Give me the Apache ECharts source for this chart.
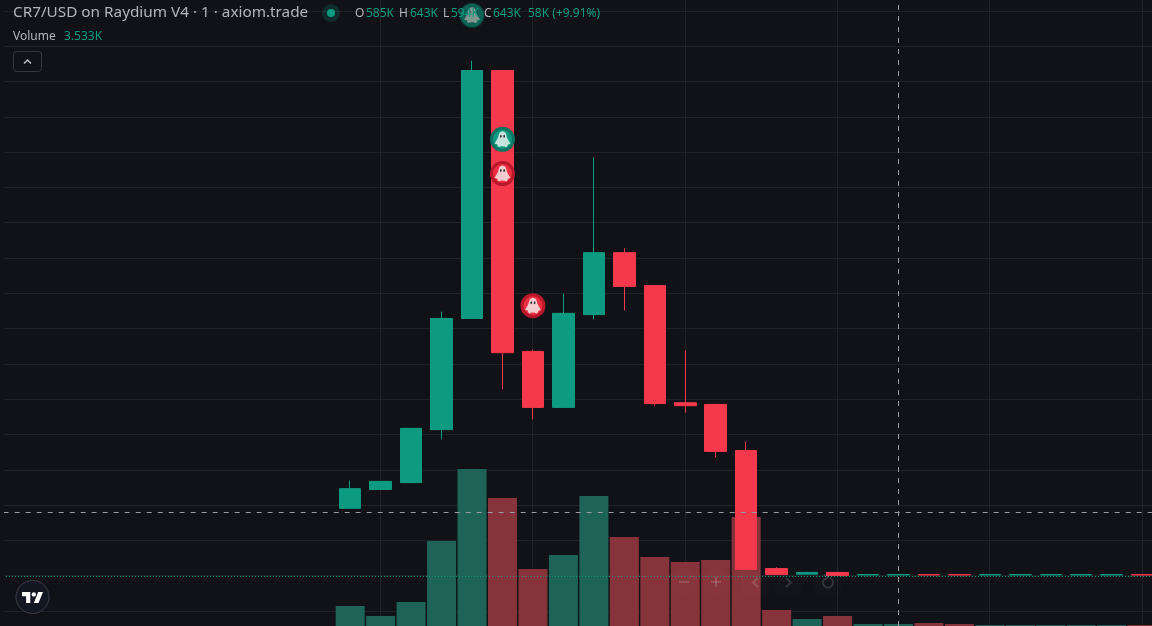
<!DOCTYPE html>
<html lang="en">
<head>
    <meta charset="utf-8">
    <title>CR7/USD</title>
    <script src="https://cdn.jsdelivr.net/npm/echarts@6/dist/echarts.min.js"></script>
</head>
<body>
<style>
    html, body, #main {
        width: 100%;
        height: 100%;
        margin: 0;
        background: #101217;
    }
</style>
<div id='main'></div>
<script>
    // prices in K
    var opens  = [540.6, 545.0, 546.6, 559.0, 585.0, 643.0, 577.3, 564.2, 585.9, 600.4, 592.7, 565.3, 564.9, 554.1, 526.5, 525.2, 525.6, 525.0, 525.0, 525.1, 525.1, 525.0, 525.0, 525.0, 525.0, 525.0, 525.1];
    var closes = [545.2, 546.9, 559.3, 585.0, 643.0, 577.0, 564.2, 586.2, 600.4, 592.5, 565.1, 564.6, 553.9, 526.3, 525.1, 525.6, 524.9, 525.1, 525.1, 525.0, 525.0, 525.1, 525.1, 525.1, 525.1, 525.1, 525.0];
    var lows   = [540.6, 545.0, 546.6, 556.7, 585.0, 568.4, 561.4, 564.2, 584.8, 586.9, 564.6, 563.0, 552.5, 526.3, 525.1, 525.2, 524.9, 525.0, 525.0, 525.0, 525.0, 525.0, 525.0, 525.0, 525.0, 525.0, 525.0];
    var highs  = [547.1, 546.9, 559.3, 586.6, 645.3, 643.0, 577.7, 590.8, 622.7, 601.4, 592.7, 577.5, 564.9, 556.2, 526.8, 525.8, 525.6, 525.1, 525.1, 525.1, 525.1, 525.1, 525.1, 525.1, 525.1, 525.1, 525.1];
    var volumes = [450, 225, 540, 1913, 3533, 2880, 1283, 1598, 2925, 2003, 1553, 1440, 1485, 2453, 360, 158, 225, 45, 45, 68, 45, 23, 23, 23, 23, 23, 23];
    var leadingEmpty = 11, trailingEmpty = 0;

    // ghost markers: candle number, price, kind
    var markerCandle = [4, 5, 5, 6];
    var markerPrice = [655.9, 626.9, 618.9, 588.0];
    var markerBuy = [true, true, false, false];
    var markerDim = [true, false, false, false];

    var crossPrice = 539.6, crossCandle = 18, lastPrice = 524.6;

    var legendTitle = 'CR7/USD on Raydium V4 · 1 · axiom.trade';
    var legendLetters = ['O', 'H', 'L', 'C'];
    var legendValues = ['585K', '643K', '594K', '643K'];
    var legendChange = '58K (+9.91%)';
    var volumeName = 'Volume', volumeValue = '3.533K';

    var up = '#0c9b81', down = '#f6384c';
    var upVol = '#1e6358', downVol = '#87333b';
    var grid = '#1f2126', bg = '#101217';
    var uiFont = '"Noto Sans", sans-serif';
    var ghost = 'path://M12 1C8.5 1 7 4 6.5 7C6 10 4 13 1 18C3 18.5 4 18.5 5 19C5.5 21 6 22 7 23C9 22 10 21.5 12 21.5C14 21.5 15.5 22 17 23C18.5 22 19 21 19.5 19C20.5 18.5 22 18.5 23 18C20 13 18 10 17.5 7C17 4 15.5 1 12 1Z';
    var eyes = 'path://M2 0A2 3 0 1 1 1.99 0ZM10 0A2 3 0 1 1 9.99 0Z';

    var categories = [];
    for (var n = 0; n < leadingEmpty + opens.length + trailingEmpty; n++) {
        categories.push(String(n));
    }
    var padding = [];
    for (var p = 0; p < leadingEmpty; p++) {
        padding.push('-');
    }

    var candleData = padding.concat(opens.map(function (o, i) {
        return [o, closes[i], lows[i], highs[i]];
    }));
    var volumeData = padding.concat(volumes.map(function (v, i) {
        return {value: v, itemStyle: {color: closes[i] >= opens[i] ? upVol : downVol}};
    }));
    var markerData = markerCandle.map(function (c, i) {
        return {
            value: [c + leadingEmpty, markerPrice[i]],
            itemStyle: {
                color: markerBuy[i] ? '#0c9b81' : '#ee2f41',
                borderColor: markerBuy[i] ? '#0b7361' : '#b9182a',
                borderWidth: 3,
                opacity: markerDim[i] ? 0.55 : 1
            }
        };
    });
    var ghostData = markerCandle.map(function (c, i) {
        return {
            value: [c + leadingEmpty, markerPrice[i]],
            itemStyle: {color: markerDim[i] ? '#9aa5a2' : '#f4f4f4'}
        };
    });
    var eyeData = markerCandle.map(function (c, i) {
        return {
            value: [c + leadingEmpty, markerPrice[i]],
            itemStyle: {color: '#2a2a2e', opacity: markerDim[i] ? 0.55 : 1}
        };
    });

    function text(str, x, y, fill, size, z) {
        return {
            type: 'text', x: x, y: y, z: z || 30,
            style: {text: str, fill: fill, font: (size || 12) + 'px ' + uiFont, textVerticalAlign: 'middle'}
        };
    }

    var graphics = [
        // horizontal lines start 4px in
        {type: 'rect', z: 20, shape: {x: 0, y: 0, width: 4, height: 626}, style: {fill: bg}},
        text(legendTitle, 13, 13, '#b4b5b9', 15.3),
        text(volumeName, 13, 37, '#b4b5b9', 12),
        text(volumeValue, 64, 37, up, 12),
        text(legendChange, 528, 14, up, 12),
        {type: 'circle', z: 30, shape: {cx: 331, cy: 13, r: 9}, style: {fill: 'rgba(12,155,129,0.2)'}},
        {type: 'circle', z: 31, shape: {cx: 331, cy: 13, r: 4}, style: {fill: up}},
        {type: 'rect', z: 30, shape: {x: 13.5, y: 51.5, width: 28, height: 20, r: 3}, style: {fill: 'none', stroke: '#373a41'}},
        {type: 'polyline', z: 30, shape: {points: [[24, 63.5], [27.5, 60], [31, 63.5]]}, style: {fill: 'none', stroke: '#c4c5c8', lineWidth: 1.4}},
        // tradingview logo
        {type: 'circle', z: 30, shape: {cx: 32.5, cy: 597, r: 16.5}, style: {fill: '#131722', stroke: '#3c3f49', lineWidth: 1}},
        {type: 'polygon', z: 31, shape: {points: [[22, 592], [30.3, 592], [30.3, 603], [26.1, 603], [26.1, 596.3], [22, 596.3]]}, style: {fill: '#ffffff'}},
        {type: 'polygon', z: 31, shape: {points: [[33.8, 603], [38.2, 592], [43, 592], [38.5, 603]]}, style: {fill: '#ffffff'}},
        {type: 'circle', z: 31, shape: {cx: 33.8, cy: 594.4, r: 2.2}, style: {fill: '#ffffff'}}
    ];

    var legendX = [355, 399, 443, 484], valueX = [366, 410, 451, 493];
    legendLetters.forEach(function (l, i) {
        graphics.push(text(l, legendX[i], 14, '#b4b5b9', 12));
        graphics.push(text(legendValues[i], valueX[i], 14, up, 12));
    });

    // zoom / scroll buttons, barely visible
    var toolX = [684, 716, 755, 788, 828];
    toolX.forEach(function (x, i) {
        graphics.push({
            type: 'rect', z: 25,
            shape: {x: x - 14, y: 568, width: 28, height: 28, r: i < 2 ? 14 : 3},
            style: {fill: 'rgba(255,255,255,0.012)'}
        });
    });
    var toolStroke = {fill: 'none', stroke: 'rgba(255,255,255,0.14)', lineWidth: 2};
    graphics.push(
        {type: 'polyline', z: 26, shape: {points: [[679, 582], [689, 582]]}, style: toolStroke},
        {type: 'polyline', z: 26, shape: {points: [[711, 582], [721, 582]]}, style: toolStroke},
        {type: 'polyline', z: 26, shape: {points: [[716, 577], [716, 587]]}, style: toolStroke},
        {type: 'polyline', z: 26, shape: {points: [[758, 578], [753, 582.5], [758, 587]]}, style: toolStroke},
        {type: 'polyline', z: 26, shape: {points: [[786, 578], [791, 582.5], [786, 587]]}, style: toolStroke},
        {type: 'arc', z: 26, shape: {cx: 828, cy: 582.5, r: 5, startAngle: -1.2, endAngle: 4, clockwise: true}, style: toolStroke},
        {type: 'polyline', z: 26, shape: {points: [[824, 575], [828, 577], [825, 580]]}, style: toolStroke}
    );

    var hidden = {show: false};
    var chart = echarts.init(document.getElementById('main'));
    var option = {
        animation: false,
        backgroundColor: bg,
        graphic: graphics,
        grid: [
            {left: -0.1, top: 0, width: 1157.5, height: 626, outerBoundsMode: 'none'},
            {left: 4, top: 10.9, width: 1148, height: 600.1, outerBoundsMode: 'none'},
            {left: 380, top: 0, width: 762, height: 626, outerBoundsMode: 'none'}
        ],
        xAxis: [
            {type: 'category', data: categories, gridIndex: 0, show: false, boundaryGap: true},
            {type: 'value', gridIndex: 1, min: 0, max: 1, show: false},
            {
                type: 'value', gridIndex: 2, min: 0, max: 5, interval: 1,
                axisLine: hidden, axisTick: hidden, axisLabel: hidden,
                splitLine: {show: true, lineStyle: {color: grid, width: 1}}
            }
        ],
        yAxis: [
            {type: 'value', gridIndex: 0, min: 513.07, max: 659.49, show: false, scale: true},
            {type: 'value', gridIndex: 0, min: 0, max: 14085, show: false},
            {
                type: 'value', gridIndex: 1, min: 0, max: 17, interval: 1,
                axisLine: hidden, axisTick: hidden, axisLabel: hidden,
                splitLine: {show: true, lineStyle: {color: grid, width: 1}}
            },
            {type: 'value', gridIndex: 2, min: 0, max: 1, show: false}
        ],
        series: [
            {
                type: 'bar', name: 'Volume', xAxisIndex: 0, yAxisIndex: 1, z: 2,
                barWidth: 29, data: volumeData, silent: true
            },
            {
                type: 'candlestick', name: 'CR7/USD', xAxisIndex: 0, yAxisIndex: 0, z: 3,
                barWidth: 22, data: candleData, silent: true,
                itemStyle: {color: up, color0: down, borderColor: up, borderColor0: down, borderWidth: 1, borderJoin: 'miter'},
                markLine: {
                    silent: true, symbol: 'none', z: 6, animation: false,
                    label: {show: false},
                    data: [
                        {
                            xAxis: String(crossCandle + leadingEmpty),
                            lineStyle: {color: '#9b9ca0', width: 1, type: [5, 6], dashOffset: 0}
                        },
                        {
                            yAxis: crossPrice,
                            lineStyle: {color: '#9b9ca0', width: 1, type: [5, 6], dashOffset: 7.2}
                        },
                        {
                            yAxis: lastPrice,
                            lineStyle: {color: up, width: 1, type: [1, 2]}
                        }
                    ]
                }
            },
            {
                type: 'scatter', xAxisIndex: 0, yAxisIndex: 0, z: 8, silent: true,
                symbol: 'circle', symbolSize: 22, data: markerData
            },
            {
                type: 'scatter', xAxisIndex: 0, yAxisIndex: 0, z: 9, silent: true,
                symbol: ghost, symbolSize: 16, data: ghostData
            },
            {
                type: 'scatter', xAxisIndex: 0, yAxisIndex: 0, z: 10, silent: true,
                symbol: eyes, symbolSize: [5, 3], symbolOffset: [0, -3], data: eyeData
            }
        ]
    };
    chart.setOption(option);

    window.onresize = chart.resize;
</script>
</body>
</html>
